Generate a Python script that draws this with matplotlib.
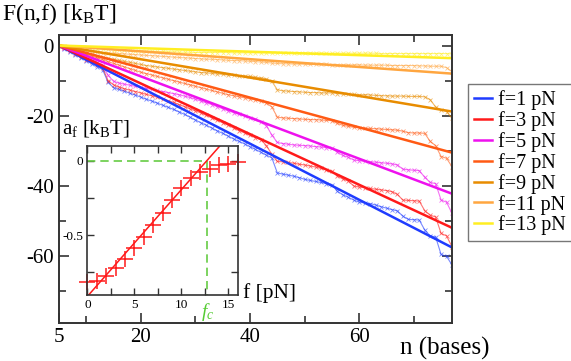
import matplotlib
matplotlib.use("Agg")
import matplotlib.pyplot as plt
import numpy as np

plt.rcParams['font.family'] = ['Liberation Serif', 'DejaVu Serif']
plt.rcParams['mathtext.fontset'] = 'custom'
plt.rcParams['mathtext.rm'] = 'Liberation Serif'
plt.rcParams['mathtext.it'] = 'Liberation Serif:italic'
plt.rcParams['axes.unicode_minus'] = False

# forces and colours
forces = [1, 3, 5, 7, 9, 11, 13]
colors = ['#1f3cff', '#ff1a1a', '#ee11ee', '#ff5a14', '#e88c00', '#ffa640', '#ffee22']

# fitted lines: F = 0 at n=5, value at n=77
fit_n = [5, 77]
fit_end = [-57.5, -51.9, -42.2, -30.5, -18.8, -8.0, -3.6]

# data F(n,f) for n = 5..77
n_vals = list(range(5, 78))

F_f1 = [0, -0.9, -1.8, -2.6, -3.5, -4.3, -5.2, -6.0, -6.9, -10.5,
        -12.0, -12.5, -13.0, -13.6, -14.1, -14.7, -15.3, -15.8, -16.4, -17.0,
        -17.6, -18.2, -18.9, -19.6, -20.4, -21.2, -22.0, -22.7, -23.5, -24.3,
        -25.0, -25.8, -26.6, -27.3, -28.0, -28.8, -29.6, -30.4, -31.2, -32.0,
        -36.3, -36.6, -36.9, -37.2, -37.6, -38.1, -38.4, -38.7, -39.0, -39.3,
        -39.6, -41.5, -42.5, -43.2, -44.0, -44.6, -44.8, -45.0, -45.4, -45.9,
        -46.3, -46.7, -47.1, -48.6, -49.5, -49.6, -49.7, -52.5, -54.2, -54.5,
        -59.5, -60.0, -62.5]
F_f3 = [0, -0.8, -1.6, -2.4, -3.2, -4.0, -4.8, -5.6, -6.4, -10.0,
        -11.2, -11.8, -12.3, -12.7, -13.1, -13.5, -13.9, -14.3, -14.7, -15.2,
        -15.7, -16.2, -16.8, -17.4, -18.0, -18.6, -19.2, -19.9, -20.6, -21.3,
        -22.0, -22.7, -23.5, -24.2, -24.9, -25.6, -26.2, -26.8, -28.5, -31.0,
        -33.0, -33.1, -33.3, -33.5, -33.8, -34.0, -34.3, -34.6, -35.0, -35.4,
        -35.8, -37.2, -38.0, -38.6, -40.0, -40.3, -40.5, -40.7, -40.9, -41.1,
        -41.3, -41.6, -42.4, -44.0, -44.1, -44.2, -44.3, -47.0, -48.3, -48.8,
        -53.5, -54.2, -57.3]
F_f5 = [0, -0.7, -1.3, -2.0, -2.7, -3.4, -4.1, -4.8, -5.5, -8.5,
        -10.2, -10.7, -11.0, -11.3, -11.6, -11.9, -12.2, -12.5, -12.8, -13.1,
        -13.4, -13.7, -14.0, -14.4, -14.8, -15.3, -15.8, -16.3, -16.8, -17.4,
        -18.0, -18.6, -19.1, -19.6, -20.1, -20.5, -21.0, -21.8, -22.8, -25.5,
        -27.6, -27.9, -28.1, -28.3, -28.4, -28.5, -28.6, -28.8, -28.9, -29.1,
        -29.3, -30.4, -31.3, -31.8, -32.6, -32.8, -33.0, -33.1, -33.2, -33.4,
        -33.5, -33.7, -34.0, -35.2, -35.4, -35.5, -35.6, -37.5, -39.0, -39.3,
        -44.0, -44.6, -47.8]
F_f7 = [0, -0.5, -1.0, -1.5, -2.0, -2.5, -3.0, -3.5, -4.0, -4.6,
        -5.1, -5.6, -6.1, -6.6, -7.1, -7.6, -8.0, -8.4, -8.8, -9.2,
        -9.6, -10.0, -10.4, -10.8, -11.2, -11.6, -12.0, -12.4, -12.8, -13.2,
        -13.6, -14.0, -14.3, -14.6, -14.9, -15.2, -15.5, -15.9, -16.4, -17.5,
        -20.4, -20.6, -20.7, -20.8, -20.9, -21.0, -21.1, -21.1, -21.2, -21.3,
        -21.4, -22.2, -22.7, -23.0, -23.3, -23.4, -23.5, -23.6, -23.7, -23.8,
        -23.9, -24.0, -24.1, -24.4, -24.8, -24.9, -24.9, -25.0, -27.3, -28.5,
        -31.6, -32.1, -34.5]
F_f9 = [0, -0.5, -0.9, -1.3, -1.7, -2.1, -2.5, -2.9, -3.3, -3.6,
        -3.9, -4.2, -4.5, -4.8, -5.1, -5.4, -5.7, -5.9, -6.1, -6.3,
        -6.5, -6.7, -6.9, -7.1, -7.3, -7.5, -7.7, -7.8, -7.9, -8.1,
        -8.2, -8.4, -8.5, -8.6, -8.7, -8.8, -9.0, -9.2, -9.5, -10.2,
        -12.6, -12.9, -13.0, -13.1, -13.2, -13.3, -13.4, -13.4, -13.5, -13.5,
        -13.5, -13.7, -13.8, -13.9, -13.9, -14.0, -14.0, -14.1, -14.2, -14.3,
        -14.3, -14.4, -14.4, -14.4, -14.5, -14.5, -14.5, -14.6, -15.4, -17.5,
        -18.3, -18.8, -20.7]
F_f11 = [0, -0.4, -0.7, -1.0, -1.3, -1.5, -1.7, -1.9, -2.0, -2.1,
         -2.2, -2.3, -2.4, -2.5, -2.6, -2.7, -2.8, -2.9, -3.0, -3.1,
         -3.2, -3.3, -3.4, -3.5, -3.6, -3.7, -3.8, -3.9, -3.9, -4.0,
         -4.1, -4.2, -4.3, -4.3, -4.4, -4.5, -4.6, -4.7, -4.8, -5.0,
         -5.1, -5.2, -5.2, -5.3, -5.3, -5.3, -5.4, -5.4, -5.4, -5.4,
         -5.5, -5.5, -5.5, -5.5, -5.5, -5.5, -5.6, -5.6, -5.6, -5.6,
         -5.6, -5.7, -5.7, -5.7, -5.7, -5.7, -5.8, -5.8, -5.9, -5.9,
         -5.9, -6.3, -7.4]
F_f13 = [0, -0.2, -0.4, -0.5, -0.6, -0.7, -0.8, -0.9, -1.0, -1.1,
         -1.2, -1.3, -1.3, -1.4, -1.5, -1.5, -1.6, -1.6, -1.7, -1.7,
         -1.8, -1.8, -1.9, -1.9, -1.9, -2.0, -2.0, -2.0, -2.0, -2.0,
         -2.0, -2.0, -2.1, -2.1, -2.1, -2.1, -2.1, -2.1, -2.1, -2.1,
         -2.1, -2.1, -2.1, -2.2, -2.2, -2.2, -2.2, -2.2, -2.2, -2.2,
         -2.2, -2.2, -2.2, -2.2, -2.2, -2.2, -2.2, -2.2, -2.2, -2.3,
         -2.3, -2.3, -2.3, -2.3, -2.3, -2.3, -2.3, -2.3, -2.3, -2.3,
         -2.3, -2.3, -2.4]
F_data = [F_f1, F_f3, F_f5, F_f7, F_f9, F_f11, F_f13]

# inset: a_f vs f
inset_f = list(range(0, 17))
inset_a = [-0.818, -0.811, -0.777, -0.721, -0.664, -0.588, -0.511, -0.434,
           -0.349, -0.266, -0.182, -0.113, -0.072, -0.052, -0.029, -0.018, -0.011]
inset_fit_f = [0, 16]
inset_fit_a = [-0.912, 0.237]
f_c = 12.75

fig = plt.figure(figsize=(5.71, 3.61), dpi=100)
ax = fig.add_axes([0.1033, 0.1053, 0.6883, 0.7978])

for i in range(len(forces)):
    ax.plot(n_vals, F_data[i], color=colors[i], lw=0.8, alpha=0.6,
            marker='x', ms=2.5, mew=0.6)
for i in range(len(forces)):
    ax.plot(fit_n, [0, fit_end[i]], color=colors[i], lw=1.8,
            label='f=%d pN' % forces[i])

ax.set_xlim(5, 77)
ax.set_ylim(-79, 3)
ax.set_xticks([5, 20, 40, 60])
ax.set_xticks([10, 30, 50, 70], minor=True)
ax.set_yticks([0, -20, -40, -60])
ax.set_yticks([-10, -30, -50, -70], minor=True)
ax.tick_params(which='both', direction='in', top=True, right=True,
               labelsize=15, width=1.2, color='#333333')
ax.tick_params(which='major', length=7)
ax.tick_params(which='minor', length=5)
for s in ax.spines.values():
    s.set_linewidth(1.4)
    s.set_color('#333333')

leg = ax.legend(loc='upper left', bbox_to_anchor=(468 / 571, 1 - 84 / 361),
                bbox_transform=fig.transFigure, fontsize=14.5, frameon=True,
                fancybox=False, edgecolor='#555555', handlelength=0.9,
                handletextpad=0.3, labelspacing=0.05, borderpad=0.3,
                borderaxespad=0)
leg.get_frame().set_linewidth(1.0)

fig.text(0.004, 1 - 14 / 361, r'F(n,f) [k$_\mathrm{B}$T]', fontsize=17,
         va='center', ha='left')
fig.text(445 / 571, 1 - 348 / 361, 'n (bases)', fontsize=18,
         va='center', ha='center')

# inset
axi = fig.add_axes([0.1532, 0.1842, 0.2631, 0.4114])
axi.plot([0, f_c], [0, 0], color='#66cc44', lw=1.2, ls=(0, (5, 3)))
axi.plot([f_c, f_c], [0, -0.9], color='#66cc44', lw=1.2, ls=(0, (5, 3)))
axi.plot(inset_fit_f, inset_fit_a, color='#ff1a1a', lw=1.1)
axi.plot(inset_f, inset_a, ls='none', marker='+', ms=11, mew=1.1,
         color='#ff1a1a', clip_on=False)
axi.set_xlim(0, 16)
axi.set_ylim(-0.9, 0.1)
axi.set_xticks([0, 5, 10, 15])
axi.set_xticks([2.5, 7.5, 12.5], minor=True)
axi.set_yticks([0, -0.5])
axi.set_yticklabels(['0', '-0.5'])
axi.set_yticks([-0.25, -0.75], minor=True)
axi.tick_params(which='both', direction='in', top=True, right=True,
                labelsize=9.5, width=1.0, color='#333333', pad=3)
axi.tick_params(which='major', length=5)
axi.tick_params(which='minor', length=5)
for s in axi.spines.values():
    s.set_linewidth(1.2)
    s.set_color('#333333')

fig.text(62 / 571, 1 - 129 / 361, r'a$_\mathrm{f}$ [k$_\mathrm{B}$T]',
         fontsize=15, va='center', ha='left')
fig.text(243 / 571, 1 - 293 / 361, 'f [pN]', fontsize=15.5,
         va='center', ha='left')
fig.text(207.5 / 571, 1 - 312 / 361, r'$f_c$', fontsize=14, color='#55cc33',
         va='center', ha='center')

fig.savefig('out.png', dpi=100)
